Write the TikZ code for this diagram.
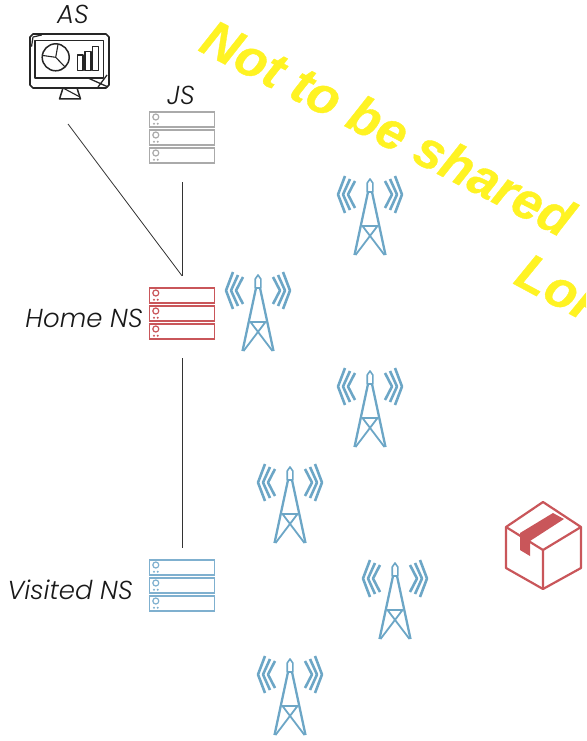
\documentclass[tikz,border=0pt]{standalone}
\usepackage{fontspec}
\setmainfont{Poppins}[ItalicFont={Poppins Light Italic}]
\newfontfamily\wmfont{Liberation Sans}[BoldItalicFeatures={FakeBold=0.7}]
\definecolor{wm}{HTML}{FFF323}
\definecolor{towerblue}{HTML}{6CA6C6}
\definecolor{srvred}{HTML}{C9565A}
\definecolor{srvgrey}{HTML}{AAAAAA}
\definecolor{srvblue}{HTML}{7FB0CF}
\tikzset{
 lbl/.style={font=\itshape\fontsize{26}{29}\selectfont,text=black!90,inner sep=0pt},
 conn/.style={draw=black!80,line width=0.8pt},
 wmtext/.style={font=\wmfont\bfseries\itshape\fontsize{52}{56}\selectfont,text=wm,inner sep=0pt,rotate=-27.3,anchor=base west},
 srv/.style={minimum width=66pt,minimum height=52pt,inner sep=0pt,draw=none},
 pics/server/.style={code={
  \foreach \yy in {-26,-8,10}{
   \draw[#1,line width=1.7pt] (-32.5,\yy) rectangle (32.5,\yy+15);
   \draw[#1,line width=1.2pt] (-26.2,\yy+5) circle (3);
   \fill[#1] (-28,\yy+11.7) circle (1.1) (-24.3,\yy+11.7) circle (1.1);
  }}},
 pics/tower/.style={code={
  \begin{scope}[towerblue,line join=round]
   \draw[line width=1.6pt] (-2.8,-46) -- (-2.8,-37) -- (2.8,-37) -- (2.8,-46) -- (0,-50) -- cycle;
   \draw[line width=2.3pt] (-2,-37) -- (-15.5,26) (2,-37) -- (15.5,26);
   \draw[line width=2.2pt] (-8,-3) -- (8,-3);
   \draw[line width=1.8pt] (-7.5,-3) -- (14.5,26) (7.5,-3) -- (-14.5,26);
   \foreach \s in {-1,1}{
    \draw[line width=2.6pt] (\s*15,-48) -- (\s*22,-34.5) -- (\s*15,-21);
    \draw[line width=2.6pt] (\s*20,-50) -- (\s*27,-34.5) -- (\s*20,-19);
    \draw[line width=2.6pt] (\s*25,-53) -- (\s*32,-34.5) -- (\s*25,-16);
   }
  \end{scope}}}
}
\begin{document}
\begin{tikzpicture}[x=1pt,y=-1pt]
\useasboundingbox (0,0) rectangle (586,741);
\begin{scope}
\clip (0,0) rectangle (586,741);
\node[wmtext] (wmone) at (197,50) {Not to be shared};
\node[wmtext,rotate=-1] (wmtwo) at (512,283) {LoRa};
\end{scope}

% AS monitor
\node[minimum width=80pt,minimum height=66pt,inner sep=0pt] (as) at (69,66) {};
\begin{scope}[black!85,line join=round]
 \draw[line width=1.7pt] (33,34) -- (106,34) -- (109,37) -- (109,85) -- (106,88) -- (33,88) -- (30,85) -- (30,37) -- cycle;
 \draw[line width=1.6pt] (35,40.7) -- (103.5,40.7) -- (103.5,78) -- (35,78) -- cycle;
 \draw[line width=1.2pt] (31.5,46.7) -- (33,37) -- (41.7,35);
 \draw[line width=1.3pt] (88,78) -- (108,87) (98,87) -- (107,75);
 \draw[line width=1.5pt] (55.7,57.3) circle (13.5);
 \draw[line width=1.1pt] (55.7,57.3) -- (58,44.5) (55.7,57.3) -- (43,55.5) (55.7,57.3) -- (65,67);
 \draw[line width=1.5pt] (77.5,55) rectangle (83,70.5);
 \draw[line width=1.5pt] (85,51.5) rectangle (91,70.5);
 \draw[line width=1.5pt] (92.7,46.7) rectangle (98.5,70.5);
 \draw[line width=1.5pt] (63,88) -- (77,88) -- (80.5,99) -- (59.5,99) -- cycle;
 \draw[line width=1.1pt] (63,88) -- (80,97);
\end{scope}
\coordinate (asfoot) at (68,124);
\node[lbl] (aslabel) at (73,14.5) {AS};

% servers
\node[srv] (js) at (182,138) {};
\path (js.center) pic {server=srvgrey};
\node[lbl] (jslabel) at (181,95) {JS};
\node[srv] (home) at (182,314) {};
\path (home.center) pic {server=srvred};
\node[lbl,anchor=east] (homelabel) at (143,318) {Home NS};
\node[srv] (visited) at (182,586) {};
\path (visited.center) pic {server=srvblue};
\node[lbl,anchor=east] (visitedlabel) at (133,590) {Visited NS};

% connectors
\coordinate (homejoin) at ([yshift=12pt]home.north);
\draw[conn] (asfoot) -- (homejoin);
\draw[conn,shorten <=18pt] (js.south) -- (homejoin);
\draw[conn,shorten <=18pt,shorten >=12pt] (home.south) -- (visited.north);

% towers
\foreach \nm/\x/\y in {ta/370/229,tb/258/325,tc/370/421,td/290/517,te/395/613,tf/290/709}{
 \node[minimum width=66pt,minimum height=78pt,inner sep=0pt] (\nm) at (\x,\y) {};
 \path (\nm.center) pic {tower};
}

% package
\node[minimum width=78pt,minimum height=88pt,inner sep=0pt] (box) at (543,545) {};
\begin{scope}[srvred,line join=round]
 \draw[line width=2.2pt] (543,502) -- (581,527) -- (581,568) -- (543,589) -- (506,568) -- (506,527) -- cycle;
 \draw[line width=2.2pt] (506,527) -- (543,550) -- (581,527) (543,550) -- (543,589);
 \fill (553,513) -- (520,533) -- (520,550) -- (530,556) -- (530,541) -- (564,519) -- cycle;
\end{scope}
\end{tikzpicture}
\end{document}
